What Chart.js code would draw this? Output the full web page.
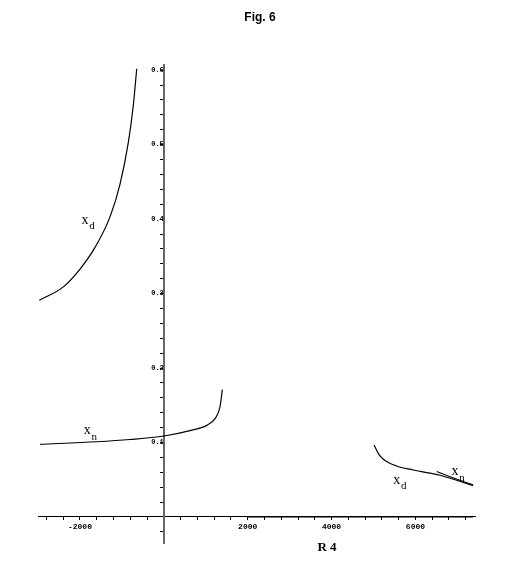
<!DOCTYPE html>
<html>
<head>
<meta charset="utf-8">
<script src="https://cdn.jsdelivr.net/npm/chart.js@4/dist/chart.umd.min.js"></script>
<style>
  html, body { margin: 0; padding: 0; background: #fff; }
  #wrap { width: 521px; height: 565px; }
</style>
</head>
<body>
<div id="wrap"><canvas id="c" width="521" height="565"></canvas></div>
<script>
// ---- data ----
const xdLeftX  = [-2969, -2396, -1998, -1640, -1283, -1044, -846, -727, -646];
const xdLeftY  = [0.291, 0.309, 0.333, 0.362, 0.403, 0.447, 0.503, 0.553, 0.602];
const xnLeftX  = [-2952, -1600, -806, 0, 625, 1023, 1221, 1340, 1395];
const xnLeftY  = [0.0976, 0.101, 0.104, 0.1087, 0.116, 0.123, 0.132, 0.148, 0.171];
const xdRightX = [5012, 5155, 5472, 5949, 6585, 7373];
const xdRightY = [0.0966, 0.082, 0.070, 0.063, 0.056, 0.042];
const xnRightX = [6507, 6824, 7373];
const xnRightY = [0.061, 0.054, 0.043];
const zeroX    = [2000, 7373];
const zeroY    = [0, 0];

const xTickLabels = [-2000, 2000, 4000, 6000];
const yTickLabels = [0.1, 0.2, 0.3, 0.4, 0.5, 0.6];

// curve labels: [main, subscript, x, y] in data units
const curveLabels = [
  ['x', 'd', -1879, 0.399],
  ['x', 'n', -1824, 0.1158],
  ['x', 'd', 5553, 0.0497],
  ['x', 'n', 6943, 0.0608]
];

const toPts = (xs, ys) => xs.map((x, i) => ({x: x, y: ys[i]}));

const lineDs = (xs, ys, w) => ({
  data: toPts(xs, ys),
  borderColor: '#000',
  borderWidth: w,
  pointRadius: 0,
  cubicInterpolationMode: 'monotone',
  fill: false
});

const overlay = {
  id: 'overlay',
  afterDraw(chart) {
    const ctx = chart.ctx;
    const xs = chart.scales.x, ys = chart.scales.y;
    ctx.save();
    ctx.fillStyle = '#000';
    ctx.textAlign = 'center';
    ctx.textBaseline = 'middle';
    ctx.font = 'bold 12px "Liberation Sans", Arial, sans-serif';
    ctx.fillText('Fig. 6', 260, 18);
    ctx.font = 'bold 13px "Liberation Serif", "Times New Roman", serif';
    ctx.fillText('R 4', 327, 548);
    curveLabels.forEach(l => {
      const px = xs.getPixelForValue(l[2]);
      const py = ys.getPixelForValue(l[3]);
      ctx.font = '14px "Liberation Serif", "Times New Roman", serif';
      ctx.fillText(l[0], px, py);
      ctx.font = '11px "Liberation Serif", "Times New Roman", serif';
      ctx.fillText(l[1], px + 7, py + 6);
    });
    ctx.restore();
  }
};

new Chart(document.getElementById('c'), {
  type: 'line',
  data: {
    datasets: [
      lineDs(xdLeftX, xdLeftY, 1.2),
      lineDs(xnLeftX, xnLeftY, 1.2),
      lineDs(xdRightX, xdRightY, 1.2),
      lineDs(xnRightX, xnRightY, 1.2),
      lineDs(zeroX, zeroY, 1.2)
    ]
  },
  options: {
    responsive: false,
    animation: false,
    layout: { padding: { left: 38, right: 46, top: 65, bottom: 22 } },
    plugins: { legend: { display: false }, title: { display: false }, tooltip: { enabled: false } },
    scales: {
      x: {
        type: 'linear',
        min: -3000,
        max: 7420,
        position: { y: 0 },
        afterBuildTicks(scale) {
          const t = [];
          for (let v = -2800; v <= 7200; v += 400) t.push({ value: v });
          scale.ticks = t;
        },
        ticks: {
          autoSkip: false,
          maxRotation: 0,
          padding: 2,
          color: '#000',
          font: { family: '"Liberation Mono", monospace', size: 8, weight: 'bold' },
          callback: v => xTickLabels.includes(v) ? String(v) : ''
        },
        grid: { drawOnChartArea: false, drawTicks: true, tickLength: 3, color: '#000' },
        border: { display: true, color: '#000', width: 1 }
      },
      y: {
        type: 'linear',
        min: -0.035,
        max: 0.607,
        position: { x: 0 },
        afterBuildTicks(scale) {
          const t = [];
          for (let i = -1; i <= 30; i++) t.push({ value: Math.round(i * 2) / 100 });
          scale.ticks = t;
        },
        ticks: {
          autoSkip: false,
          padding: 3,
          color: '#000',
          font: { family: '"Liberation Mono", monospace', size: 7, weight: 'bold' },
          callback: v => yTickLabels.some(y => Math.abs(y - v) < 1e-9) ? v.toFixed(1) : ''
        },
        grid: { drawOnChartArea: false, drawTicks: true, tickLength: 3, color: '#000' },
        border: { display: true, color: '#666', width: 2 }
      }
    }
  },
  plugins: [overlay]
});
</script>
</body>
</html>
